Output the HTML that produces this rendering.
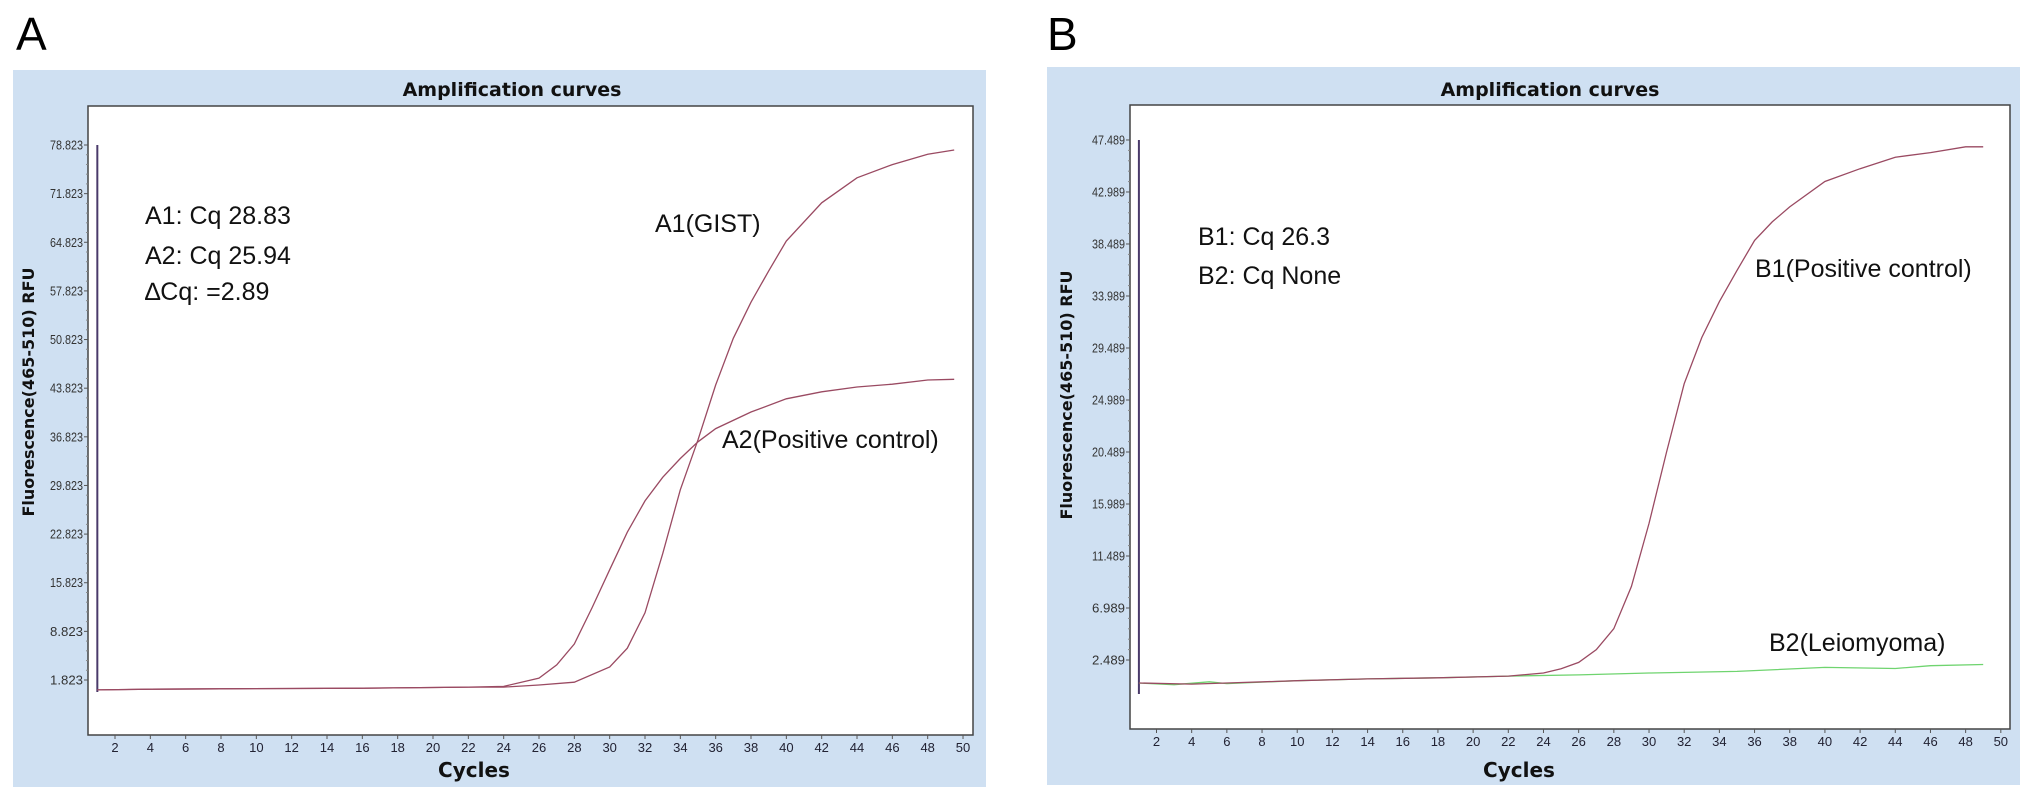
<!DOCTYPE html>
<html><head><meta charset="utf-8"><style>
html,body{margin:0;padding:0;background:#fff;width:2032px;height:799px;overflow:hidden}
svg{display:block}
</style></head><body>
<svg id="fig" width="2032" height="799" xmlns="http://www.w3.org/2000/svg"></svg>
<script>
// ---- Panel A data ----
const aXTicks = [2,4,6,8,10,12,14,16,18,20,22,24,26,28,30,32,34,36,38,40,42,44,46,48,50];
const aYTicks = [1.823,8.823,15.823,22.823,29.823,36.823,43.823,50.823,57.823,64.823,71.823,78.823];
const a1Cycles = [1,4,8,12,16,20,22,24,26,28,30,31,32,33,34,35,36,37,38,39,40,42,44,46,48,49.5];
const a1Values = [0.4,0.5,0.55,0.6,0.65,0.75,0.8,0.8,1.1,1.5,3.7,6.4,11.5,20,29.2,36.4,44.3,51,56.2,60.7,65,70.5,74.1,76,77.5,78.1];
const a2Cycles = [1,4,8,12,16,20,22,24,26,27,28,29,30,31,32,33,34,35,36,38,40,42,44,46,48,49.5];
const a2Values = [0.4,0.5,0.55,0.6,0.65,0.75,0.8,0.9,2.1,4,7,12.2,17.7,23.1,27.6,31,33.7,36.1,38,40.4,42.3,43.3,44,44.4,45,45.1];
// ---- Panel B data ----
const bXTicks = [2,4,6,8,10,12,14,16,18,20,22,24,26,28,30,32,34,36,38,40,42,44,46,48,50];
const bYTicks = [2.489,6.989,11.489,15.989,20.489,24.989,29.489,33.989,38.489,42.989,47.489];
const b1Cycles = [1,4,6,10,14,18,22,24,25,26,27,28,29,30,31,32,33,34,35,36,37,38,40,42,44,46,48,49];
const b1Values = [0.5,0.4,0.5,0.7,0.85,0.95,1.1,1.36,1.74,2.28,3.38,5.2,8.85,14.3,20.5,26.4,30.4,33.5,36.2,38.8,40.4,41.7,43.9,45,46,46.4,46.9,46.9];
const b2Cycles = [1,3,5,6,10,14,18,22,26,30,35,40,44,46,49];
const b2Values = [0.5,0.35,0.6,0.45,0.7,0.85,0.95,1.1,1.2,1.36,1.5,1.85,1.75,2.0,2.1];

const NS='http://www.w3.org/2000/svg';
const svg=document.getElementById('fig');
function mk(tag,attrs,parent,text){const e=document.createElementNS(NS,tag);for(const k in attrs)e.setAttribute(k,attrs[k]);if(text!==undefined)e.textContent=text;(parent||svg).appendChild(e);return e;}

function panel(cfg){
  const g=mk('g',{});
  
  
  const lab=mk('text',{x:cfg.letterX,y:50,'font-family':'Liberation Sans, sans-serif','font-size':46,fill:'#000'},g,cfg.letter);
  
  
  const bg=mk('rect',{x:cfg.bgX,y:cfg.bgY,width:cfg.bgW,height:cfg.bgH,fill:'#cfe0f2'},g);
  
  
  const t=mk('text',{x:cfg.titleX,y:96,'text-anchor':'middle','font-family':'DejaVu Sans, sans-serif','font-weight':'bold','font-size':19,fill:'#111'},g,'Amplification curves');
  
  
  const box=mk('rect',{x:cfg.L,y:cfg.T,width:cfg.R-cfg.L,height:cfg.B-cfg.T,fill:'#fff',stroke:'#444','stroke-width':1.5},g);
  
  
  const xs=c=>cfg.x2+(c-2)*cfg.xStep;
  const ys=v=>cfg.y0-(v-cfg.v0)*cfg.yPer;
  // y ticks
  cfg.yTicks.forEach((v,i)=>{
    const y=ys(v);
    const tk=mk('line',{x1:cfg.L-4,x2:cfg.L,y1:y,y2:y,stroke:'#555','stroke-width':1},g);
    
    
    const tl=mk('text',{x:cfg.L-5,y:y+4.5,'text-anchor':'end','font-family':'Liberation Sans, sans-serif','font-size':12.5,fill:'#333',textLength:cfg.yLabW,lengthAdjust:'spacingAndGlyphs'},g,v.toFixed(3));
    
    
    if(i<cfg.yTicks.length-1){for(let k=1;k<5;k++){const yy=y-(k/5)*(ys(v)-ys(cfg.yTicks[i+1]));const m=mk('line',{x1:cfg.L-2,x2:cfg.L,y1:yy,y2:yy,stroke:'#888','stroke-width':1},g);}}
  });
  cfg.xTicks.forEach(c=>{
    const x=xs(c);
    const tk=mk('line',{x1:x,x2:x,y1:cfg.B,y2:cfg.B+4,stroke:'#555','stroke-width':1},g);
    
    
    const tl=mk('text',{x:x,y:cfg.B+17,'text-anchor':'middle','font-family':'Liberation Sans, sans-serif','font-size':13,fill:'#223'},g,String(c));
    
    
  });
  const xt=mk('text',{x:cfg.cyclesX,y:777,'text-anchor':'middle','font-family':'DejaVu Sans, sans-serif','font-weight':'bold','font-size':20,fill:'#111'},g,'Cycles');
  
  
  const yt=mk('text',{x:0,y:0,transform:`translate(${cfg.ytX},${cfg.ytY}) rotate(-90)`,'text-anchor':'middle','font-family':'DejaVu Sans, sans-serif','font-weight':'bold','font-size':16,fill:'#111'},g,'Fluorescence(465-510)  RFU');
  yt.setAttribute('xml:space','preserve');
  
  
  const vl=mk('line',{x1:xs(1),x2:xs(1),y1:cfg.vTop,y2:cfg.vBot,stroke:'#4a3a6a','stroke-width':2},g);
  
  
  cfg.series.forEach(s=>{
    const pts=s.c.map((c,i)=>xs(c).toFixed(1)+','+ys(s.v[i]).toFixed(1)).join(' ');
    const p=mk('polyline',{points:pts,fill:'none',stroke:s.color,'stroke-width':1.3},g);
    
    
  });
  cfg.notes.forEach(n=>{
    const e=mk('text',{x:n.x,y:n.y,'font-family':'Liberation Sans, sans-serif','font-size':n.fs,fill:'#111'},g,n.t);
    
    
  });
}

panel({id:'a',letter:'A',letterX:16,bgX:13,bgY:70,bgW:973,bgH:717,titleX:512,L:88,T:106,R:973,B:735,
  x2:115,xStep:17.667,y0:680,v0:1.823,yPer:6.948,yTicks:aYTicks,xTicks:aXTicks,yLabW:33,
  cyclesX:474,ytX:34,ytY:392,vTop:145,vBot:692,
  series:[{name:'a1-gist-curve',c:a1Cycles,v:a1Values,color:'#9a4a62'},{name:'a2-positive-control-curve',c:a2Cycles,v:a2Values,color:'#9a4a62'}],
  notes:[{t:'A1: Cq 28.83',x:145,y:224,fs:25,name:'a1-cq-annotation'},{t:'A2: Cq 25.94',x:145,y:264,fs:25,name:'a2-cq-annotation'},{t:'\u2206Cq: =2.89',x:145,y:300,fs:25,name:'delta-cq-annotation'},
    {t:'A1(GIST)',x:655,y:232,fs:25,name:'a1-curve-label'},{t:'A2(Positive control)',x:722,y:448,fs:25,name:'a2-curve-label'}]});

panel({id:'b',letter:'B',letterX:1047,bgX:1047,bgY:67,bgW:973,bgH:718,titleX:1550,L:1130,T:105,R:2010,B:729,
  x2:1156.5,xStep:17.59,y0:660,v0:2.489,yPer:11.556,yTicks:bYTicks,xTicks:bXTicks,yLabW:33,
  cyclesX:1519,ytX:1072,ytY:395,vTop:140,vBot:694,
  series:[{name:'b2-leiomyoma-curve',c:b2Cycles,v:b2Values,color:'#6fd46f'},{name:'b1-positive-control-curve',c:b1Cycles,v:b1Values,color:'#9a4a62'}],
  notes:[{t:'B1: Cq 26.3',x:1198,y:245,fs:25,name:'b1-cq-annotation'},{t:'B2: Cq None',x:1198,y:284,fs:25,name:'b2-cq-annotation'},
    {t:'B1(Positive control)',x:1755,y:277,fs:25,name:'b1-curve-label'},{t:'B2(Leiomyoma)',x:1769,y:651,fs:25,name:'b2-curve-label'}]});
</script>
</body></html>
